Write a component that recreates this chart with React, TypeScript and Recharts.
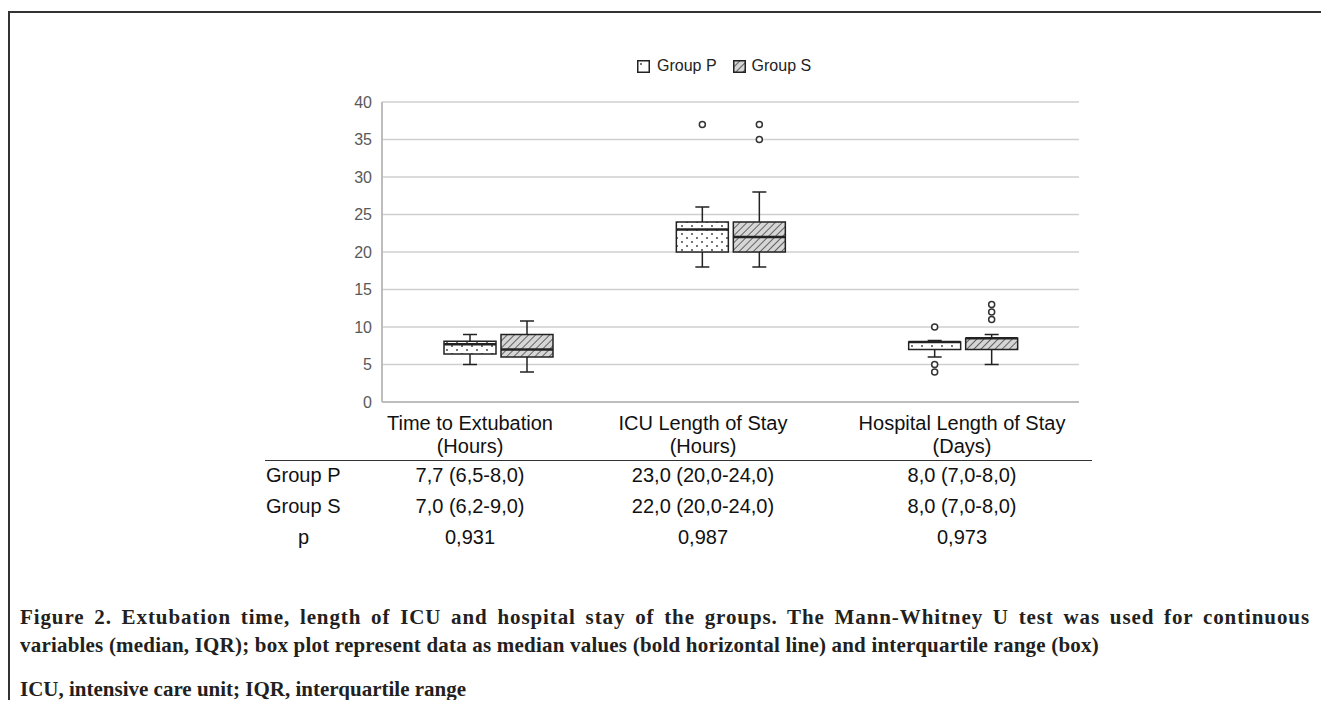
import React from 'react';
import { ComposedChart, Bar, XAxis, YAxis, CartesianGrid } from 'recharts';

const categories = ['Time to Extubation', 'ICU Length of Stay', 'Hospital Length of Stay'];
const units = ['(Hours)', '(Hours)', '(Days)'];
const yTicks = [0, 5, 10, 15, 20, 25, 30, 35, 40];

// Group P box stats
const pMin = [5, 18, 6];
const pQ1 = [6.4, 20, 7];
const pMedian = [7.7, 23, 8];
const pQ3 = [8.1, 24, 8];
const pMax = [9, 26, 8.2];
const pOutliers = [[], [37], [10, 5, 4]];

// Group S box stats
const sMin = [4, 18, 5];
const sQ1 = [6, 20, 7];
const sMedian = [7, 22, 8.5];
const sQ3 = [9, 24, 8.5];
const sMax = [10.8, 28, 9];
const sOutliers = [[], [37, 35], [11, 12, 13]];

// table below the chart
const rowLabels = ['Group P', 'Group S', 'p'];
const tableP = ['7,7 (6,5-8,0)', '23,0 (20,0-24,0)', '8,0 (7,0-8,0)'];
const tableS = ['7,0 (6,2-9,0)', '22,0 (20,0-24,0)', '8,0 (7,0-8,0)'];
const pValues = ['0,931', '0,987', '0,973'];

const captionLines = [
  'Figure 2. Extubation time, length of ICU and hospital stay of the groups. The Mann-Whitney U test was used for continuous',
  'variables (median, IQR); box plot represent data as median values (bold horizontal line) and interquartile range (box)',
];
const footnote = 'ICU, intensive care unit; IQR, interquartile range';

const stats = (min: number[], q1: number[], med: number[], q3: number[], max: number[], out: number[][], i: number) => {
  const all = [min[i], max[i], ...out[i]];
  return {
    min: min[i], q1: q1[i], median: med[i], q3: q3[i], max: max[i], outliers: out[i],
    range: [Math.min(...all), Math.max(...all)],
  };
};

const data = categories.map((name, i) => {
  const p = stats(pMin, pQ1, pMedian, pQ3, pMax, pOutliers, i);
  const s = stats(sMin, sQ1, sMedian, sQ3, sMax, sOutliers, i);
  return { name, p, s, pRange: p.range, sRange: s.range };
});

const FONT = '"Liberation Sans", Arial, sans-serif';
const SERIF = '"Liberation Serif", serif';
const INK = '#222';
// the table columns (and header labels) sit a little off the box centres in the original
const tableCol = [470, 703, 962];

// draws a whole box plot inside the range bar's geometry
const BoxShape = (props: any) => {
  const { x, y, width, height, payload, group } = props;
  const st = payload[group];
  const [lo, hi] = st.range;
  const top = Math.min(y, y + height);
  const k = Math.abs(height) / (hi - lo);
  const py = (v: number) => top + (hi - v) * k;
  const cx = x + width / 2;
  const cap = 14;
  const fill = group === 'p' ? 'url(#dotFill)' : 'url(#hatchFill)';
  return (
    <g>
      <line x1={cx} x2={cx} y1={py(st.max)} y2={py(st.q3)} stroke={INK} strokeWidth={1.5} />
      <line x1={cx} x2={cx} y1={py(st.q1)} y2={py(st.min)} stroke={INK} strokeWidth={1.5} />
      <line x1={cx - cap / 2} x2={cx + cap / 2} y1={py(st.max)} y2={py(st.max)} stroke={INK} strokeWidth={1.5} />
      <line x1={cx - cap / 2} x2={cx + cap / 2} y1={py(st.min)} y2={py(st.min)} stroke={INK} strokeWidth={1.5} />
      <rect x={x} y={py(st.q3)} width={width} height={py(st.q1) - py(st.q3)} fill={fill} stroke={INK} strokeWidth={1.5} />
      <line x1={x} x2={x + width} y1={py(st.median)} y2={py(st.median)} stroke={INK} strokeWidth={2.5} />
      {st.outliers.map((v: number, i: number) => (
        <circle key={i} cx={cx} cy={py(v)} r={3} fill="#fff" stroke="#333" strokeWidth={1.5} />
      ))}
    </g>
  );
};

const CategoryTick = (props: any) => {
  const { y, index } = props;
  const x = tableCol[index];
  return (
    <g fontFamily={FONT} fontSize={20} fill="#111">
      <text x={x} y={y + 26} textAnchor="middle">{categories[index]}</text>
      <text x={x} y={y + 49} textAnchor="middle">{units[index]}</text>
    </g>
  );
};

const LegendIcon = ({ fill }: { fill: string }) => (
  <svg width={13} height={13} style={{ display: 'block' }}>
    <defs>
      <pattern id={'lg' + fill} width="5" height="5" patternUnits="userSpaceOnUse" patternTransform="rotate(45)">
        <rect width="5" height="5" fill="#d6d6d6" />
        <line x1="0" y1="0" x2="0" y2="5" stroke="#444" strokeWidth="1.6" />
      </pattern>
    </defs>
    <rect x={0.75} y={0.75} width={11.5} height={11.5} fill={fill === 'hatch' ? 'url(#lghatch)' : '#fff'} stroke={INK} strokeWidth={1.5} />
    {fill === 'dot' && <circle cx={4} cy={4} r={0.9} fill="#333" />}
  </svg>
);

export default function App() {
  const rowY = [464, 495, 526];
  const capStyle: React.CSSProperties = {
    position: 'absolute', left: 20, fontFamily: SERIF, fontWeight: 'bold', fontSize: 21,
    lineHeight: '28px', color: '#231f20', whiteSpace: 'nowrap', letterSpacing: 0.2,
  };
  return (
    <div style={{ position: 'relative', width: 1329, height: 708, margin: -8, background: '#fff', overflow: 'hidden', fontFamily: FONT }}>
      <div style={{ position: 'absolute', left: 8, top: 11, width: 1400, height: 800, borderTop: '2px solid #333', borderLeft: '2px solid #333' }} />

      {/* legend */}
      <div style={{ position: 'absolute', top: 57, left: 637, display: 'flex', alignItems: 'center', fontSize: 16, color: INK }}>
        <LegendIcon fill="dot" />
        <span style={{ marginLeft: 7, marginRight: 16 }}>Group P</span>
        <LegendIcon fill="hatch" />
        <span style={{ marginLeft: 6 }}>Group S</span>
      </div>

      <div style={{ position: 'absolute', left: 0, top: 0 }}>
        <ComposedChart width={1329} height={470} data={data} margin={{ top: 102, right: 250, left: 0, bottom: 8 }} barSize={52} barGap={5}>
          <defs>
            <pattern id="dotFill" width="10" height="8" patternUnits="userSpaceOnUse">
              <rect width="10" height="8" fill="#fff" />
              <circle cx="2" cy="2" r="0.9" fill="#333" />
              <circle cx="7" cy="6" r="0.9" fill="#333" />
            </pattern>
            <pattern id="hatchFill" width="5" height="5" patternUnits="userSpaceOnUse" patternTransform="rotate(45)">
              <rect width="5" height="5" fill="#d6d6d6" />
              <line x1="0" y1="0" x2="0" y2="5" stroke="#444" strokeWidth="1.6" />
            </pattern>
          </defs>
          <CartesianGrid vertical={false} stroke="#cfcfcf" strokeWidth={1.5} />
          <XAxis dataKey="name" height={60} tickLine={false} tickSize={0} axisLine={{ stroke: '#bdbdbd', strokeWidth: 2 }} tick={<CategoryTick />} interval={0} />
          <YAxis width={382} domain={[0, 40]} ticks={yTicks} interval={0} tickLine={false} tickSize={0} tickMargin={10}
            axisLine={{ stroke: '#bdbdbd', strokeWidth: 2 }} tick={{ fill: '#595959', fontSize: 16, fontFamily: FONT }} />
          <Bar dataKey="pRange" isAnimationActive={false} shape={(p: any) => <BoxShape {...p} group="p" />} />
          <Bar dataKey="sRange" isAnimationActive={false} shape={(p: any) => <BoxShape {...p} group="s" />} />
        </ComposedChart>
      </div>

      {/* summary table */}
      <div style={{ position: 'absolute', left: 265, top: 460, width: 827, borderTop: '1.5px solid #333' }} />
      {rowLabels.map((r, ri) => (
        <div key={r} style={{ position: 'absolute', top: rowY[ri], left: ri < 2 ? 266 : 298, fontSize: 20, color: '#111', lineHeight: '22px' }}>{r}</div>
      ))}
      {[tableP, tableS, pValues].map((row, ri) =>
        row.map((v, ci) => (
          <div key={ri + '-' + ci} style={{ position: 'absolute', top: rowY[ri], left: tableCol[ci], transform: 'translateX(-50%)', whiteSpace: 'nowrap', fontSize: 20, color: '#111', lineHeight: '22px' }}>{v}</div>
        ))
      )}

      {/* caption: first line justified to full width, as in the journal layout */}
      <div style={{ ...capStyle, top: 603, width: 1290, whiteSpace: 'normal' }}>
        <div style={{ textAlign: 'justify', textAlignLast: 'justify', whiteSpace: 'nowrap', letterSpacing: 0.9 }}>{captionLines[0]}</div>
        <div>{captionLines[1]}</div>
      </div>
      <div style={{ ...capStyle, top: 675, letterSpacing: 0 }}>{footnote}</div>
    </div>
  );
}
